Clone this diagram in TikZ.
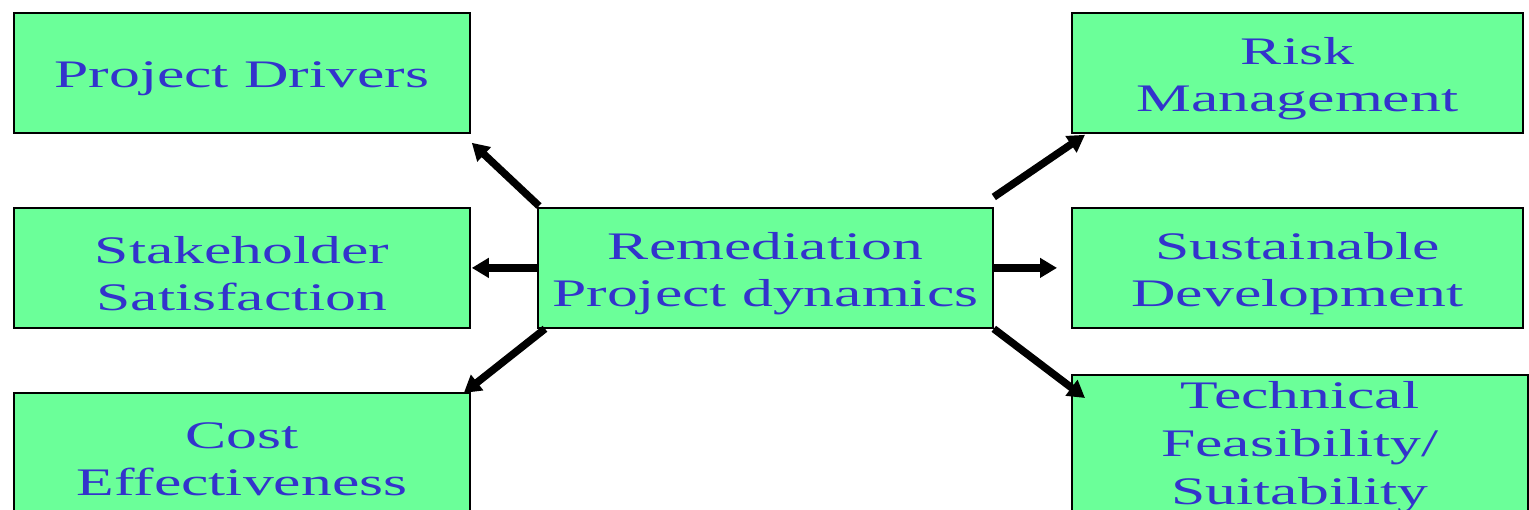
\documentclass[tikz,border=0pt]{standalone}
\usepackage{fontspec}
\newfontfamily\boxfont[FakeStretch=1.58]{Liberation Serif}
\usetikzlibrary{arrows.meta}
\definecolor{boxgreen}{HTML}{6BFF99}
\definecolor{txtblue}{HTML}{3333CC}
\begin{document}
\begin{tikzpicture}[x=1pt,y=-1pt,
  box/.style={draw=black, line width=1.8pt, fill=boxgreen,
    minimum width=456pt, minimum height=120pt, inner sep=0pt, anchor=north west},
  txt/.style={text=txtblue, align=center, inner sep=0pt,
    font=\boxfont\fontsize{39pt}{47pt}\selectfont},
  conn/.style={line width=7.5pt, -{Triangle[length=17pt,width=19pt]}}]
\useasboundingbox (0,0) rectangle (1529,510);
\clip (0,0) rectangle (1529,510);
\node[box] (pd) at (13,12) {};
\node[box] (ss) at (13,207) {};
\node[box] (ce) at (13,392) {};
\node[box, minimum width=455pt] (c) at (537,207) {};
\node[box, minimum width=451pt] (rm) at (1071,12) {};
\node[box, minimum width=451pt] (sd) at (1071,207) {};
\node[box, minimum width=456pt, minimum height=140pt] (tf) at (1071,374) {};
\node[txt] (tpd) at ([yshift=-6pt]pd.center) {Project Drivers};
\node[txt] (tss) at ([yshift=-6pt]ss.center) {Stakeholder\\Satisfaction};
\node[txt] (tce) at ([yshift=-6pt]ce.center) {Cost\\Effectiveness};
\node[txt] (tc) at ([yshift=-6pt]c.center) {Remediation\\Project dynamics};
\node[txt] (trm) at ([yshift=-6pt]rm.center) {Risk\\Management};
\node[txt] (tsd) at ([yshift=-6pt]sd.center) {Sustainable\\Development};
\node[txt, font=\boxfont\fontsize{39pt}{48pt}\selectfont] (ttf) at ([yshift=-2pt]tf.center) {Technical\\Feasibility/\\Suitability};
\draw[conn] ([shift={(2,-1)}]c.north west) -- ([shift={(1,9)}]pd.south east);
\draw[conn] (c.west) -- ([shift={(1,0)}]ss.east);
\draw[conn] ([shift={(8,0)}]c.south west) -- ([shift={(-7,1)}]ce.north east);
\draw[conn] ([shift={(0,-10)}]c.north east) -- ([shift={(14,1)}]rm.south west);
\draw[conn] (c.east) -- ([shift={(-14,0)}]sd.west);
\draw[conn] (c.south east) -- ([shift={(14,24)}]tf.north west);
\end{tikzpicture}
\end{document}
